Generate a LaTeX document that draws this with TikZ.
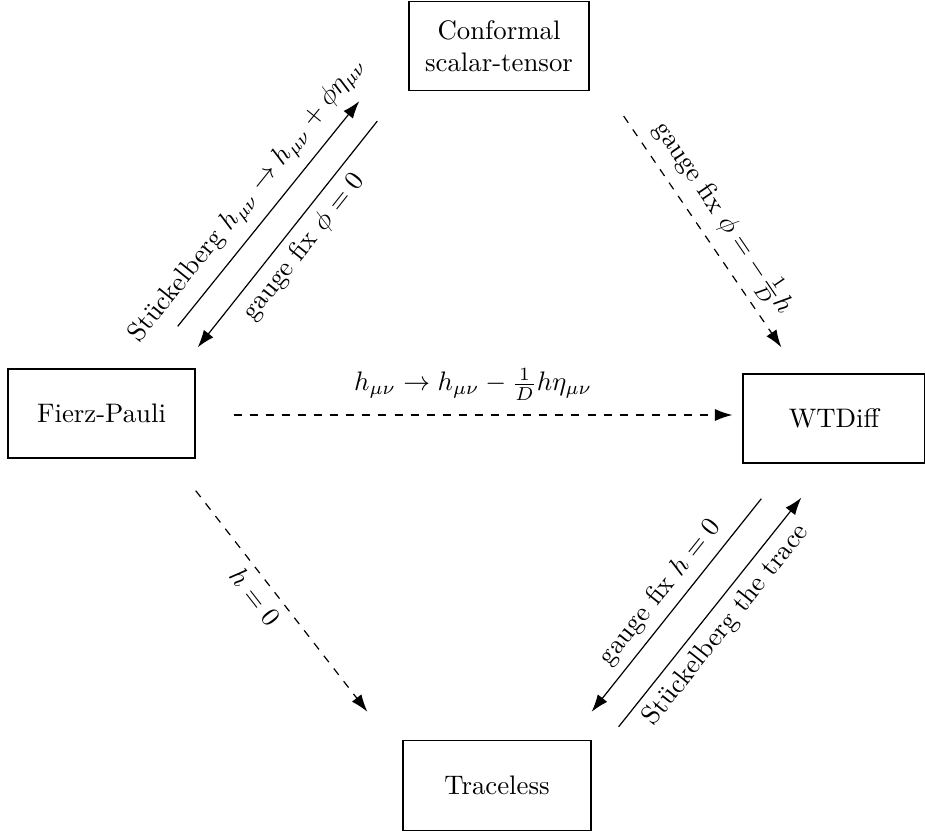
\documentclass[tikz,border=0pt]{standalone}
\usetikzlibrary{arrows.meta,calc}
\begin{document}
\begin{tikzpicture}[x=0.3731pt,y=-0.3731pt,
  box/.style={draw, line width=0.5pt, align=center, inner sep=2pt, minimum height=33.2pt},
  arr/.style={-{Latex[length=6.5pt,width=4.5pt]}, line width=0.45pt},
  lbl/.style={sloped, inner sep=3pt}]
\useasboundingbox (0,0) rectangle (925,832);
\node[box, minimum width=69.8pt] (FP) at (101.5,413.5) {Fierz-Pauli};
\node[box, minimum width=67.9pt] (WTD) at (834,418.5) {WTDiff};
\node[box, minimum width=67.2pt] (CST) at (499,46) {Conformal\\scalar-tensor};
\node[box, minimum width=70.1pt, minimum height=33.6pt] (TL) at (497,785.5) {Traceless};

\draw[arr] ($(FP.north east)+(-18,-42)$) -- node[lbl, above, pos=0.49, inner sep=4pt] {St\"uckelberg $h_{\mu\nu}\to h_{\mu\nu}+\phi\eta_{\mu\nu}$} ($(CST.south west)+(-49,10)$);
\draw[arr] ($(CST.south west)+(-31,30)$) -- node[lbl, below] {gauge fix $\phi=0$} ($(FP.north east)+(2,-21)$);
\draw[arr, dashed] ($(CST.south east)+(34,25)$) -- node[lbl, above] {gauge fix $\phi=-\frac{1}{D}h$} ($(WTD.north west)+(39,-26)$);
\draw[arr, dashed] ($(FP.east)+(38,1.5)$) -- node[above=2pt, pos=0.48] {$h_{\mu\nu}\to h_{\mu\nu}-\frac{1}{D}h\eta_{\mu\nu}$} ($(FP.east -| WTD.west)+(-10,1.5)$);
\draw[arr, dashed] ($(FP.south east)+(0,32)$) -- node[lbl, below, pos=0.43] {$h=0$} ($(TL.north west)+(-35,-28)$);
\draw[arr] ($(WTD.south west)+(19,35)$) -- node[lbl, above] {gauge fix $h=0$} ($(TL.north east)+(0,-28)$);
\draw[arr] ($(TL.north east)+(27,-13)$) -- node[lbl, below] {St\"uckelberg the trace} ($(WTD.south west)+(59,34)$);
\end{tikzpicture}
\end{document}
